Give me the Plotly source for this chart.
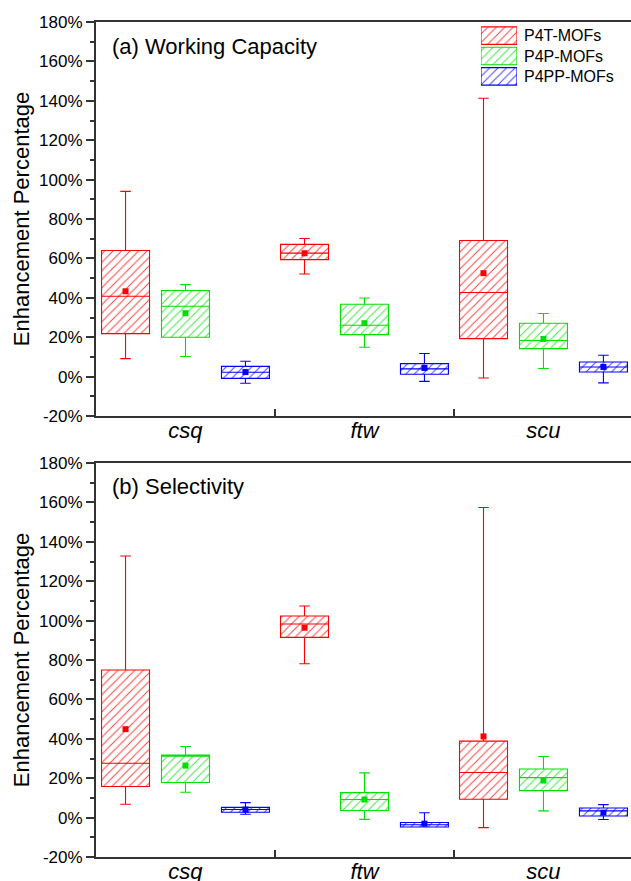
import plotly.graph_objects as go

# ---------------- data ----------------
categories = ["csq", "ftw", "scu"]
series = ["P4T-MOFs", "P4P-MOFs", "P4PP-MOFs"]
colors = ["#FF0000", "#00E000", "#0000FF"]

# (a) Working Capacity  -- per series, per category
wc_upper = [[94.0, 70.1, 141.3], [46.7, 39.9, 32.0], [7.8, 11.7, 10.8]]
wc_q3    = [[64.0, 67.1, 69.1], [43.7, 36.7, 27.1], [5.2, 6.6, 7.4]]
wc_med   = [[40.8, 62.7, 42.7], [35.7, 26.1, 18.3], [2.2, 3.9, 4.9]]
wc_mean  = [[43.3, 62.6, 52.5], [32.2, 27.1, 19.1], [2.3, 4.4, 4.9]]
wc_q1    = [[21.8, 59.4, 19.3], [20.0, 21.3, 14.2], [-0.9, 1.2, 2.3]]
wc_lower = [[9.1, 52.1, -0.7], [10.2, 14.9, 4.1], [-3.4, -2.4, -3.2]]

# (b) Selectivity
sel_upper = [[132.8, 107.4, 157.4], [36.1, 22.7, 31.0], [7.6, 2.5, 6.6]]
sel_q3    = [[74.9, 102.3, 38.8], [31.8, 12.7, 24.7], [5.2, -2.5, 4.9]]
sel_med   = [[27.6, 98.3, 22.9], [31.2, 9.2, 20.3], [4.1, -3.6, 3.4]]
sel_mean  = [[44.9, 96.4, 41.2], [26.4, 9.2, 18.8], [4.1, -3.1, 2.5]]
sel_q1    = [[15.8, 91.5, 9.3], [17.8, 3.6, 13.7], [2.7, -4.8, 0.8]]
sel_lower = [[6.8, 78.1, -5.1], [12.9, -0.9, 3.4], [1.7, -4.8, -1.0]]

y_ticks = [-20, 0, 20, 40, 60, 80, 100, 120, 140, 160, 180]
y_ticktext = [f"{v}%" for v in y_ticks]

# ---------------- layout constants ----------------
offsets = [-0.335, 0.0, 0.335]
box_w = 0.268
FONT = "Liberation Sans, Arial, sans-serif"
AX = "#333333"
H = 881.0
PW = 535.0  # plot area width in px (from x=96 to 631)


def hatch(c):
    return dict(shape="/", fgcolor=c, bgcolor="white", size=6,
                solidity=0.16, fgopacity=0.75)


fig = go.Figure()

panels = [
    ("x", "y", wc_upper, wc_q3, wc_med, wc_mean, wc_q1, wc_lower),
    ("x2", "y2", sel_upper, sel_q3, sel_med, sel_mean, sel_q1, sel_lower),
]

for xa, ya, up, q3, med, mean, q1, low in panels:
    for s, name in enumerate(series):
        c = colors[s]
        pos = [i + offsets[s] for i in range(len(categories))]
        fig.add_trace(go.Bar(
            x=pos, y=[q3[s][i] - q1[s][i] for i in range(len(categories))],
            base=q1[s], width=box_w, name=name, showlegend=False,
            xaxis=xa, yaxis=ya,
            marker=dict(color="white", pattern=hatch(c),
                        line=dict(color=c, width=0)),
            hoverinfo="skip"))
        fig.add_trace(go.Box(
            x=pos, q1=q1[s], median=med[s], q3=q3[s],
            lowerfence=low[s], upperfence=up[s],
            width=box_w, whiskerwidth=0.22, boxpoints=False,
            fillcolor="rgba(0,0,0,0)", line=dict(color=c, width=1.1),
            name=name, showlegend=False, xaxis=xa, yaxis=ya))
        fig.add_trace(go.Scatter(
            x=pos, y=mean[s], mode="markers", name=name + " mean",
            showlegend=False, xaxis=xa, yaxis=ya,
            marker=dict(symbol="square", size=6, color=c)))

# legend swatches (hatched rectangles) drawn on a small helper axis
rows = list(range(len(series)))
for s, name in enumerate(series):
    c = colors[s]
    fig.add_trace(go.Bar(
        x=[1], y=[rows[s]], base=[0], orientation="h", width=0.86,
        name=name, showlegend=False, xaxis="x3", yaxis="y3",
        marker=dict(color="white", pattern=hatch(c),
                    line=dict(color=c, width=1.1)),
        hoverinfo="skip"))

xcommon = dict(
    range=[-0.5, 2.489], tickmode="array", tickvals=[0, 1, 2],
    ticktext=[f"<i>{c}</i>" for c in categories], ticks="",
    ticklabelstandoff=-6, automargin=False,
    tickfont=dict(family=FONT, size=22, color="black"),
    showline=True, linecolor=AX, linewidth=2, mirror=True,
    showgrid=False, zeroline=False,
    minor=dict(tickmode="array", tickvals=[0.5, 1.5], ticks="inside",
               ticklen=7, tickwidth=1.5, tickcolor=AX),
)
ycommon = dict(
    range=[-20, 180], tickmode="array", tickvals=y_ticks, ticktext=y_ticktext,
    ticks="outside", ticklen=8, tickwidth=1.5, tickcolor=AX, automargin=False,
    tickfont=dict(family=FONT, size=17, color="black"),
    showline=True, linecolor=AX, linewidth=2, mirror=False,
    showgrid=False, zeroline=False,
    minor=dict(dtick=10, tick0=0, ticks="outside", ticklen=4, tickwidth=1.5,
               tickcolor=AX),
    title=dict(text="Enhancement Percentage",
               font=dict(family=FONT, size=22, color="black"), standoff=3),
)

leg_x0, leg_x1 = 481, 517
leg_top, leg_bot = 25.5, 86.5
ann = [
    dict(text="(a) Working Capacity", xref="paper", yref="paper",
         x=(110 - 96) / PW, y=1 - 47 / H, xanchor="left", yanchor="middle",
         showarrow=False, font=dict(family=FONT, size=22, color="black")),
    dict(text="(b) Selectivity", xref="paper", yref="paper",
         x=(110 - 96) / PW, y=1 - 487 / H, xanchor="left", yanchor="middle",
         showarrow=False, font=dict(family=FONT, size=22, color="black")),
]
for s, name in enumerate(series):
    ann.append(dict(text=name, xref="paper", yref="y3",
                    x=(522 - 96) / PW, y=rows[s], xanchor="left", yanchor="middle",
                    showarrow=False, font=dict(family=FONT, size=16, color="black")))

fig.update_layout(
    width=631, height=881,
    margin=dict(l=96, r=0, t=0, b=0, autoexpand=False),
    paper_bgcolor="white", plot_bgcolor="white",
    barmode="overlay", boxmode="overlay",
    showlegend=False,
    xaxis=dict(**xcommon, domain=[0, 1], anchor="y"),
    yaxis=dict(**ycommon, domain=[1 - 416 / H, 1 - 22 / H], anchor="x"),
    xaxis2=dict(**xcommon, domain=[0, 1], anchor="y2"),
    yaxis2=dict(**ycommon, domain=[1 - 857 / H, 1 - 463 / H], anchor="x2"),
    xaxis3=dict(domain=[(leg_x0 - 96) / PW, (leg_x1 - 96) / PW], range=[0, 1],
                visible=False, fixedrange=True, anchor="y3", automargin=False),
    yaxis3=dict(domain=[1 - leg_bot / H, 1 - leg_top / H], range=[2.5, -0.5],
                visible=False, fixedrange=True, anchor="x3", automargin=False),
    annotations=ann,
)

fig.write_html("out.html")
